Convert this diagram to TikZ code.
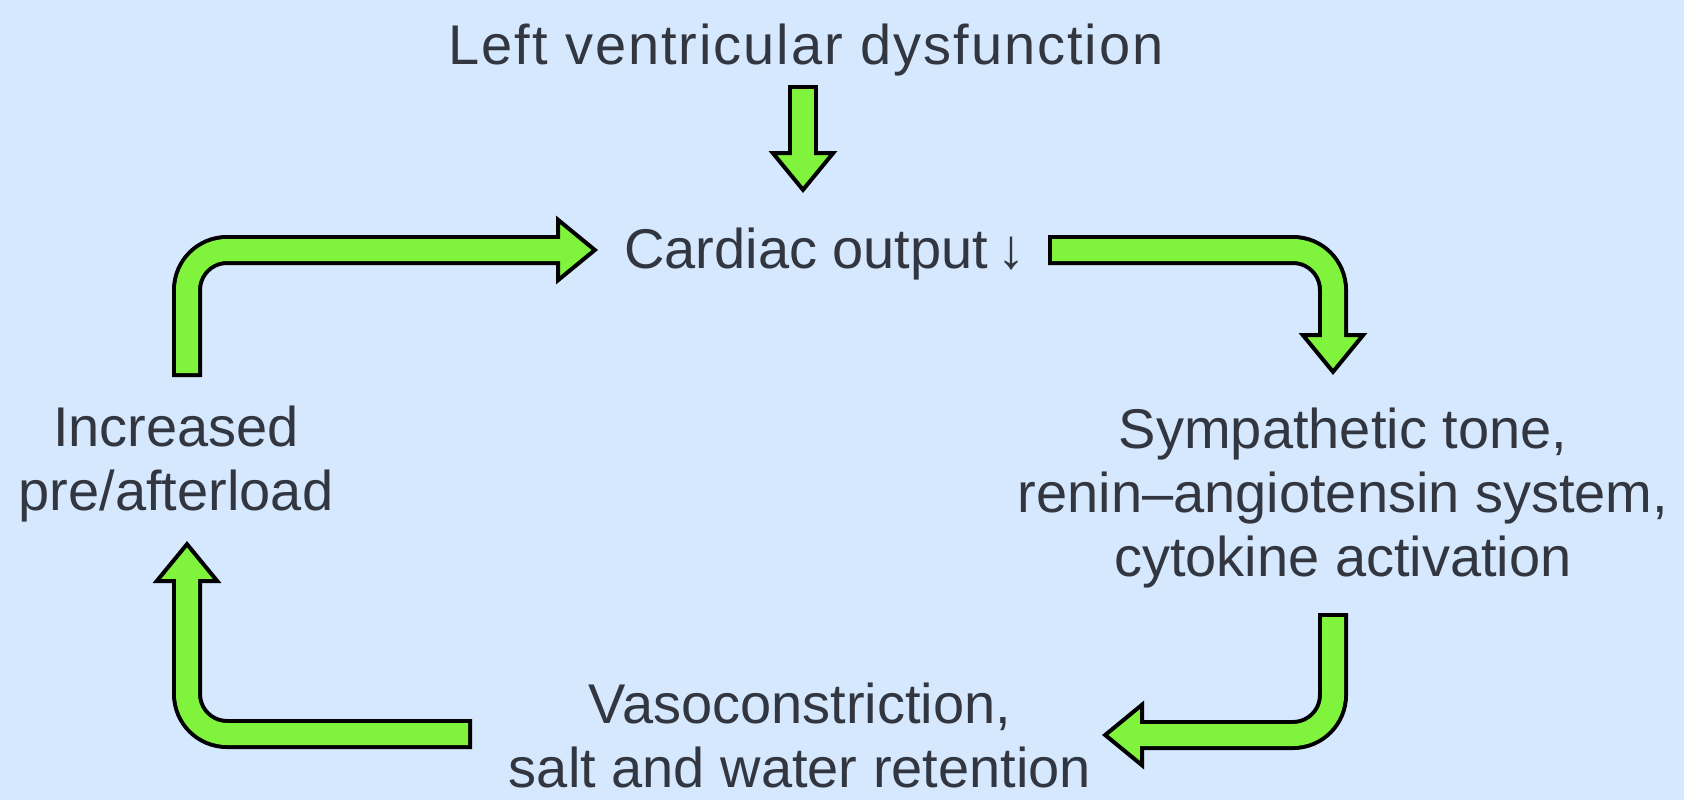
\documentclass[tikz,border=0pt]{standalone}
\usepackage{fontspec}
\setmainfont{Liberation Sans}
\usetikzlibrary{arrows.meta,positioning}
\definecolor{bgblue}{RGB}{213,232,253}
\definecolor{lime}{RGB}{128,244,60}
\definecolor{txtgray}{RGB}{50,54,64}

% fat outlined arrow: black outline pass, then the green core
\newcommand{\fatarrow}[1]{\draw[fatout] #1; \draw[fatin] #1;}

\begin{document}
\begin{tikzpicture}[
  x=1pt,y=-1pt,
  lbl/.style={font=\fontsize{56}{64}\selectfont,text=txtgray,align=center,inner sep=0pt},
  fatout/.style={draw=black,line width=30pt,rounded corners=40pt,
    -{Triangle[length=42pt,width=68pt,fill=lime,line width=4pt 0 0]}},
  fatin/.style={draw=lime,line width=22pt,rounded corners=40pt,
    shorten <=4pt,shorten >=34pt}
]
\fill[bgblue] (0,0) rectangle (1684,800);
\useasboundingbox (0,0) rectangle (1684,800);

\node[lbl,anchor=base] (lvd) at (806,64) {\addfontfeature{LetterSpace=3.5}Left ventricular dysfunction};
\node[lbl,anchor=base] (co) at (825,268) {Cardiac output\,↓};
\node[lbl] (sns) at (1343,498) {Sympathetic tone,\\renin–angiotensin system,\\cytokine activation};
\node[lbl] (vaso) at (800,735) {Vasoconstriction,\\salt and water retention};
\node[lbl] (load) at (176,464) {Increased\\pre/afterload};

% arrow ends and corners
\coordinate (lvd-out) at (803,85);
\coordinate (co-in) at (803,193);
\coordinate (co-out) at (1048,250);
\coordinate (sns-in) at (1333,375);
\coordinate (sns-out) at (1333,613);
\coordinate (vaso-in) at (1102,735);
\coordinate (vaso-out) at (472,734);
\coordinate (load-in) at (187,541);
\coordinate (load-out) at (187,377);
\coordinate (co-left) at (598,250);

\fatarrow{(lvd-out) -- (co-in)}
\fatarrow{(co-out) -- (co-out -| sns-in) -- (sns-in)}
\fatarrow{(sns-out) -- (sns-out |- vaso-in) -- (vaso-in)}
\fatarrow{(vaso-out) -- (vaso-out -| load-in) -- (load-in)}
\fatarrow{(load-out) -- (load-out |- co-left) -- (co-left)}
\end{tikzpicture}
\end{document}
